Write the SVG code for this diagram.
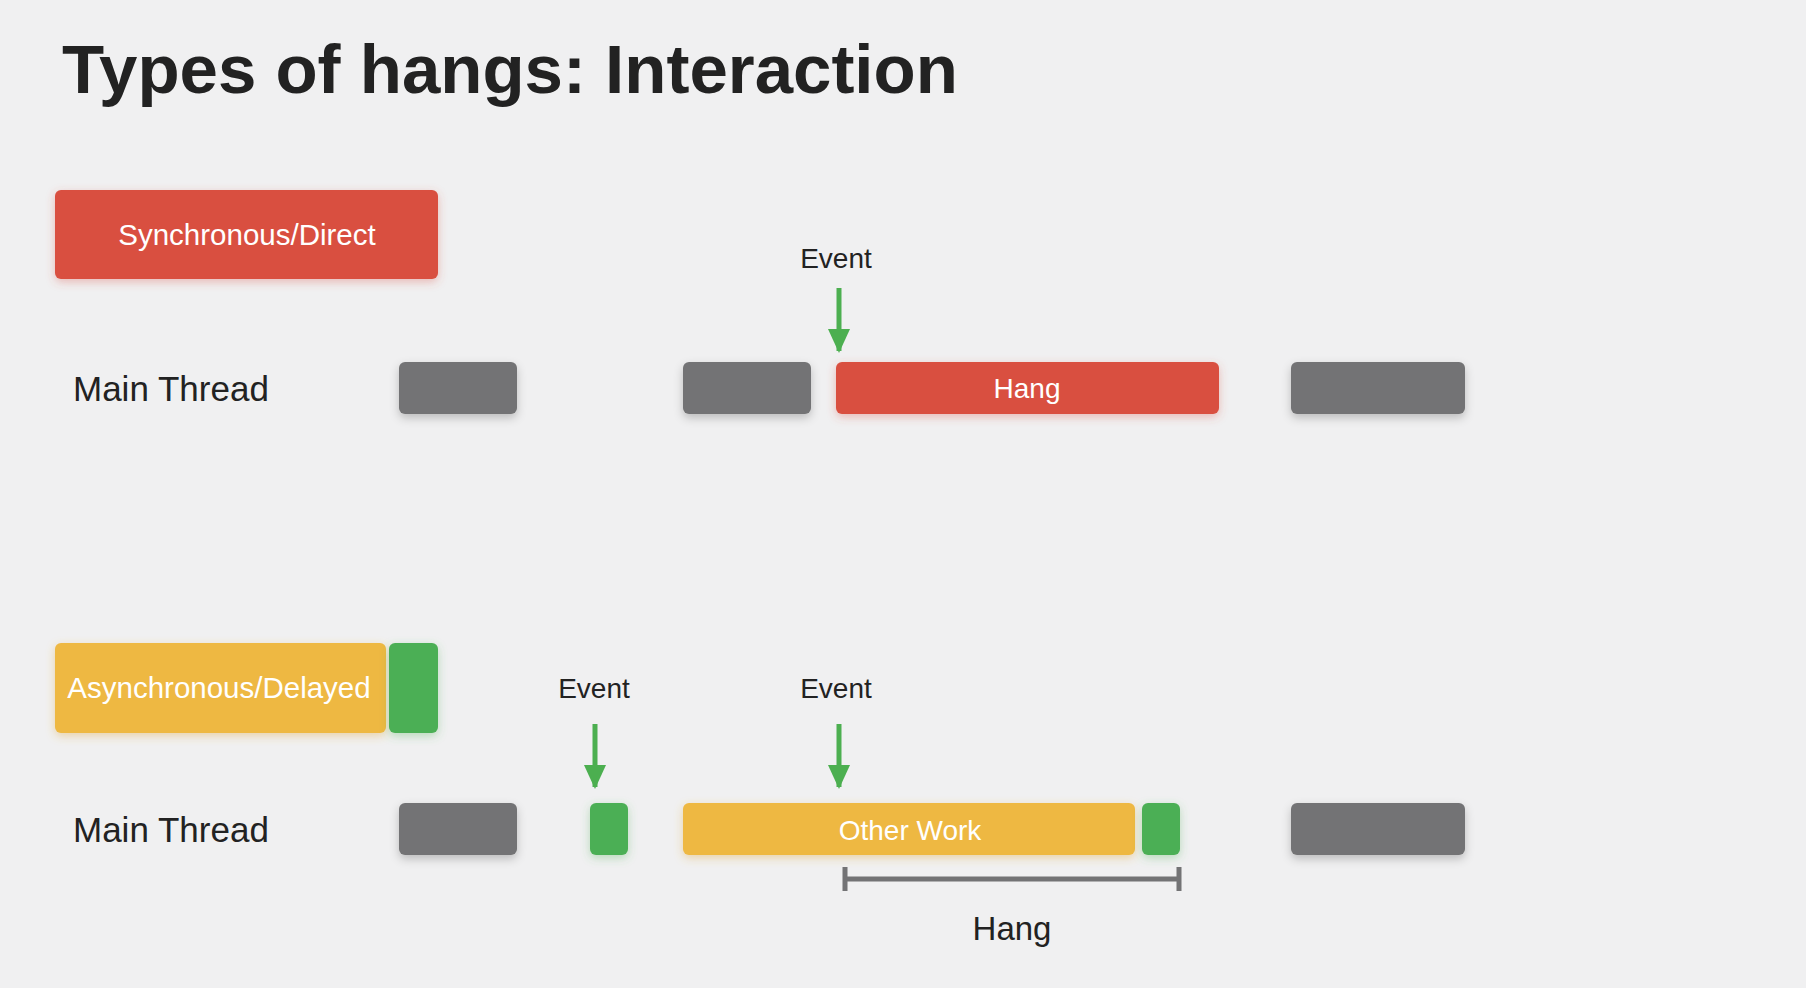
<svg xmlns="http://www.w3.org/2000/svg" width="1806" height="988" viewBox="0 0 1806 988">
<defs>
<filter id="shGray" x="-30%" y="-40%" width="160%" height="200%"><feDropShadow dx="0" dy="4" stdDeviation="5" flood-color="#000" flood-opacity="0.22"/></filter>
<filter id="shRed" x="-30%" y="-40%" width="160%" height="200%"><feDropShadow dx="0" dy="3" stdDeviation="5" flood-color="#d9503f" flood-opacity="0.35"/></filter>
<filter id="shYel" x="-30%" y="-40%" width="160%" height="200%"><feDropShadow dx="0" dy="3" stdDeviation="5" flood-color="#e0a63a" flood-opacity="0.4"/></filter>
<filter id="shGrn" x="-60%" y="-40%" width="220%" height="200%"><feDropShadow dx="0" dy="3" stdDeviation="5" flood-color="#4caf50" flood-opacity="0.35"/></filter>
<marker id="arr" viewBox="0 0 24 22" refX="22" refY="11" markerWidth="24" markerHeight="22" markerUnits="userSpaceOnUse" orient="auto"><path d="M0,0 L24,11 L0,22 Z" fill="#4caf50"/></marker>
</defs>
<style>
text{font-family:"Liberation Sans",Arial,sans-serif;}
.title{font-size:69px;font-weight:bold;fill:#222;}
.lbl{font-size:35px;fill:#222;}
.ev{font-size:28px;fill:#222;text-anchor:middle;}
.wt{fill:#fff;text-anchor:middle;}
.gray{fill:#737375;filter:url(#shGray);}
.red{fill:#d9503f;filter:url(#shRed);}
.yel{fill:#eeb843;filter:url(#shYel);}
.grn{fill:#4caf55;filter:url(#shGrn);}
.arrow{stroke:#4caf50;stroke-width:5;fill:none;}
.brk{stroke:#737375;stroke-width:5;fill:none;}
</style>
<rect width="1806" height="988" fill="#f0f0f1"/>
<text class="title" x="62" y="93">Types of hangs: Interaction</text>

<g id="legend-sync">
<rect class="red" x="55" y="190" width="383" height="89" rx="6"/>
<text class="wt" x="247" y="245" style="font-size:29.5px">Synchronous/Direct</text>
</g>

<g id="row1">
<text class="lbl" x="73" y="401">Main Thread</text>
<g id="r1-gray1"><rect class="gray" x="399" y="362" width="118" height="52" rx="6"/></g>
<g id="r1-gray2"><rect class="gray" x="683" y="362" width="128" height="52" rx="6"/></g>
<g id="r1-hang"><rect class="red" x="836" y="362" width="383" height="52" rx="6"/><text class="wt" x="1027" y="398" style="font-size:28px">Hang</text></g>
<g id="r1-gray3"><rect class="gray" x="1291" y="362" width="174" height="52" rx="6"/></g>
<g id="r1-event"><text class="ev" x="836" y="268">Event</text></g>
</g>

<g id="legend-async">
<rect class="yel" x="55" y="643" width="331" height="90" rx="6"/>
<rect class="grn" x="389" y="643" width="49" height="90" rx="6"/>
<text class="wt" x="219" y="698" style="font-size:29.5px">Asynchronous/Delayed</text>
</g>

<g id="row2">
<text class="lbl" x="73" y="842">Main Thread</text>
<g id="r2-gray1"><rect class="gray" x="399" y="803" width="118" height="52" rx="6"/></g>
<g id="r2-green1"><rect class="grn" x="590" y="803" width="38" height="52" rx="6"/></g>
<g id="r2-other"><rect class="yel" x="683" y="803" width="452" height="52" rx="6"/><text class="wt" x="910" y="840" style="font-size:28px">Other Work</text></g>
<g id="r2-green2"><rect class="grn" x="1142" y="803" width="38" height="52" rx="6"/></g>
<g id="r2-gray2"><rect class="gray" x="1291" y="803" width="174" height="52" rx="6"/></g>
<g id="r2-event1"><text class="ev" x="594" y="698">Event</text></g>
<g id="r2-event2"><text class="ev" x="836" y="698">Event</text></g>
<g id="r2-hang"><text class="ev" x="1012" y="940" style="font-size:33px">Hang</text></g>
</g>

<g id="connectors">
<line class="arrow" x1="839" y1="288" x2="839" y2="351" marker-end="url(#arr)"/>
<line class="arrow" x1="595" y1="724" x2="595" y2="787" marker-end="url(#arr)"/>
<line class="arrow" x1="839" y1="724" x2="839" y2="787" marker-end="url(#arr)"/>
<path class="brk" d="M845,879 H1179 M845,867 V891 M1179,867 V891"/>
</g>
</svg>
